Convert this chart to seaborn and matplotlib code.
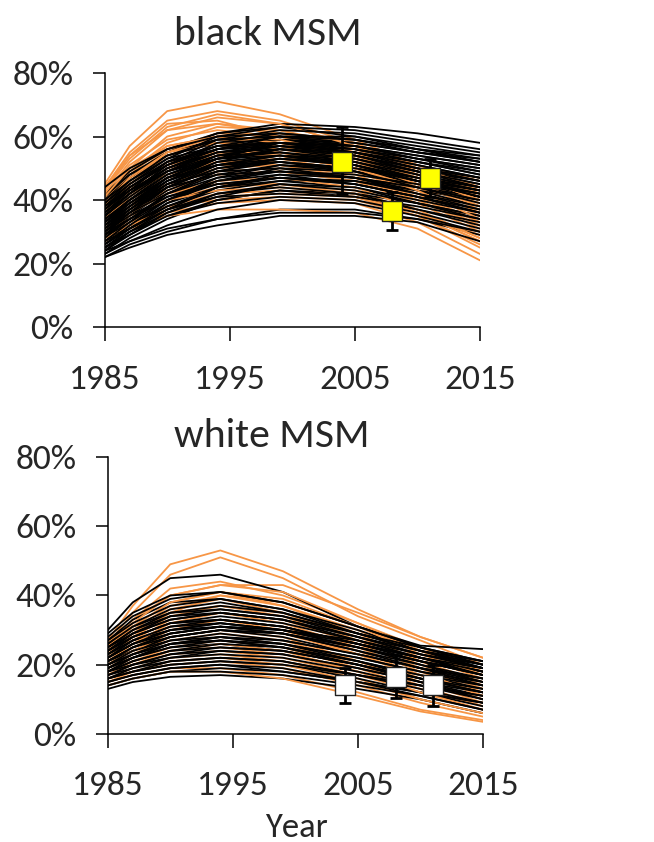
import numpy as np
import pandas as pd
import matplotlib
matplotlib.use("Agg")
import matplotlib.pyplot as plt
from matplotlib.ticker import FuncFormatter
import seaborn as sns

# Years at which each model trajectory is recorded
years = [1985, 1987, 1990, 1994, 1999, 2005, 2010, 2015]

# black MSM, model runs (percent)
black_msm_black = [
    [40, 47, 55, 61, 64, 63, 61, 58],
    [38, 45, 53, 60, 63, 62, 59, 56],
    [36, 43, 52, 59, 62, 61, 58, 55],
    [42, 49, 56, 61, 63, 60, 56, 52],
    [35, 42, 51, 58, 61, 59, 55, 52],
    [39, 46, 54, 59, 60, 57, 53, 49],
    [33, 40, 49, 56, 59, 57, 53, 50],
    [37, 44, 52, 57, 58, 55, 51, 47],
    [31, 38, 47, 54, 57, 55, 51, 47],
    [34, 41, 49, 55, 57, 54, 49, 45],
    [29, 36, 45, 52, 56, 54, 50, 46],
    [36, 42, 49, 54, 55, 52, 47, 43],
    [28, 35, 44, 51, 54, 52, 47, 43],
    [32, 38, 46, 52, 54, 51, 46, 42],
    [27, 33, 42, 49, 53, 51, 46, 41],
    [30, 36, 44, 50, 52, 49, 44, 40],
    [26, 32, 40, 47, 51, 49, 44, 40],
    [33, 38, 45, 49, 50, 47, 42, 38],
    [25, 31, 39, 46, 49, 47, 43, 38],
    [29, 34, 41, 46, 48, 45, 41, 37],
    [24, 30, 37, 44, 47, 45, 41, 36],
    [27, 32, 39, 44, 46, 44, 39, 35],
    [24, 29, 36, 42, 45, 43, 39, 34],
    [26, 31, 37, 42, 44, 42, 37, 33],
    [23, 28, 34, 40, 43, 41, 37, 32],
    [25, 29, 35, 39, 41, 40, 36, 31],
    [23, 27, 32, 37, 40, 39, 35, 30],
    [22, 26, 30, 34, 37, 37, 34, 29],
    [22, 25, 29, 32, 35, 35, 33, 27],
    [24, 27, 31, 34, 36, 36, 34, 30],
    [41, 48, 55, 59, 60, 58, 55, 53],
    [44, 50, 56, 60, 61, 59, 56, 54],
    [30, 37, 46, 53, 58, 57, 54, 51],
    [35, 40, 47, 51, 52, 50, 47, 44],
    [38, 44, 51, 56, 58, 56, 52, 48],
    [34, 40, 48, 53, 55, 53, 49, 45],
    [31, 37, 45, 51, 54, 53, 49, 46],
    [28, 34, 42, 48, 51, 50, 46, 42],
    [26, 31, 38, 44, 48, 47, 44, 39],
    [33, 39, 47, 53, 56, 54, 50, 47],
    [37, 43, 50, 55, 56, 53, 48, 44],
    [40, 46, 53, 57, 58, 55, 50, 46],
    [29, 35, 43, 49, 52, 50, 45, 41],
    [25, 30, 36, 41, 45, 44, 40, 36],
    [27, 31, 37, 41, 42, 41, 38, 34],
    [32, 37, 44, 48, 49, 47, 44, 41],
    [35, 41, 49, 55, 58, 57, 54, 51],
    [39, 45, 52, 56, 57, 54, 49, 44],
    [36, 42, 50, 56, 59, 58, 55, 52],
    [32, 39, 47, 53, 56, 55, 52, 49],
    [30, 36, 44, 50, 53, 52, 48, 44],
    [28, 33, 40, 46, 50, 49, 46, 43],
    [34, 39, 46, 51, 53, 51, 47, 43],
    [38, 43, 49, 53, 54, 51, 46, 41],
    [27, 32, 38, 43, 46, 46, 43, 40],
    [31, 36, 42, 47, 49, 48, 45, 42],
    [35, 42, 50, 56, 60, 60, 57, 54],
    [42, 48, 54, 58, 59, 56, 52, 48],
    [29, 34, 40, 45, 47, 46, 42, 37],
    [33, 40, 48, 54, 57, 56, 53, 50],
    [25, 30, 35, 40, 43, 42, 39, 35],
    [37, 44, 51, 57, 60, 59, 56, 53],
    [30, 35, 41, 45, 47, 45, 41, 36],
]
black_msm_orange = [
    [45, 57, 68, 71, 67, 59, 51, 44],
    [44, 55, 65, 68, 65, 58, 50, 43],
    [43, 53, 63, 67, 64, 57, 49, 42],
    [42, 52, 62, 66, 64, 57, 50, 44],
    [41, 50, 60, 64, 62, 56, 49, 42],
    [40, 49, 58, 63, 62, 57, 51, 46],
    [39, 47, 56, 61, 60, 55, 48, 41],
    [38, 46, 55, 60, 59, 54, 47, 40],
    [37, 45, 54, 59, 58, 53, 46, 38],
    [36, 43, 52, 57, 57, 52, 45, 37],
    [35, 42, 50, 55, 55, 51, 44, 36],
    [34, 41, 49, 54, 54, 50, 43, 34],
    [33, 40, 47, 52, 53, 49, 42, 33],
    [32, 38, 45, 50, 51, 48, 41, 32],
    [31, 37, 43, 48, 49, 46, 39, 30],
    [30, 36, 42, 46, 47, 44, 37, 28],
    [29, 34, 40, 44, 45, 43, 36, 27],
    [28, 33, 38, 42, 43, 41, 35, 25],
    [27, 32, 36, 39, 40, 39, 33, 23],
    [27, 31, 35, 37, 37, 36, 31, 21],
    [43, 54, 64, 65, 60, 54, 48, 43],
    [40, 48, 57, 60, 58, 54, 50, 47],
    [42, 51, 59, 62, 60, 55, 48, 41],
    [39, 47, 55, 58, 57, 52, 45, 38],
    [36, 44, 51, 55, 55, 51, 45, 39],
    [34, 40, 47, 51, 51, 47, 40, 31],
    [31, 36, 42, 45, 45, 42, 36, 29],
    [38, 45, 52, 55, 54, 50, 44, 39],
    [29, 33, 38, 40, 41, 40, 35, 26],
    [41, 49, 56, 58, 56, 52, 47, 43],
    [44, 54, 62, 64, 61, 55, 48, 42],
    [41, 50, 57, 60, 58, 53, 47, 40],
    [37, 44, 51, 55, 55, 51, 44, 36],
    [35, 42, 48, 52, 52, 49, 43, 35],
    [33, 39, 45, 49, 50, 47, 41, 33],
    [30, 35, 40, 43, 44, 42, 36, 27],
    [39, 47, 54, 58, 57, 53, 47, 41],
    [36, 43, 50, 54, 54, 50, 45, 40],
    [32, 38, 44, 48, 49, 46, 40, 32],
    [28, 32, 37, 41, 42, 41, 36, 28],
]

# white MSM, model runs (percent)
white_msm_black = [
    [30, 38, 45, 46, 41, 31, 25.5, 24.5],
    [28, 34, 39, 41, 38, 31, 25, 20],
    [27, 32, 37, 39, 36, 29, 24, 19],
    [26, 31, 35, 37, 35, 29, 24, 20],
    [25, 30, 34, 36, 34, 28, 23, 19],
    [24, 28, 32, 34, 32, 27, 22, 18],
    [23, 27, 31, 33, 31, 26, 22, 18],
    [22, 26, 30, 32, 30, 25, 21, 17],
    [21, 25, 29, 31, 29, 24, 20, 16],
    [21, 24, 28, 30, 28, 23, 19, 15],
    [20, 23, 27, 29, 27, 23, 19, 16],
    [19, 22, 26, 28, 26, 22, 18, 14],
    [19, 22, 25, 27, 25, 21, 17, 13],
    [18, 21, 24, 26, 25, 21, 17, 14],
    [18, 20, 23, 25, 24, 20, 16, 12],
    [17, 20, 22, 24, 23, 19, 15, 11],
    [17, 19, 22, 23, 22, 18, 14, 10],
    [16, 18, 21, 22, 21, 17, 13, 9],
    [16, 18, 20, 21, 20, 16, 12, 8],
    [15, 17, 19, 20, 19, 15, 11, 7],
    [14, 16, 18, 18, 17, 14, 11, 7],
    [13, 15, 16.5, 17, 16, 13, 10, 6],
    [25, 29, 33, 35, 33, 28, 24, 21],
    [22, 26, 29, 31, 30, 27, 23, 20],
    [20, 24, 28, 30, 29, 25, 21, 18],
    [24, 29, 34, 35, 33, 27, 22, 17],
    [29, 35, 40, 41, 38, 31, 25, 21],
    [27, 33, 38, 39, 36, 30, 24, 19],
    [23, 28, 32, 33, 31, 26, 21, 17],
    [21, 25, 28, 30, 29, 25, 21, 17],
    [19, 23, 26, 28, 27, 23, 19, 16],
    [18, 21, 24, 25, 24, 20, 16, 13],
    [16, 19, 21, 22, 21, 17, 14, 11],
    [15, 17, 19, 20, 18, 15, 12, 9],
    [22, 27, 31, 32, 30, 25, 20, 15],
    [20, 24, 27, 28, 26, 21, 16, 12],
    [24, 28, 32, 33, 31, 26, 22, 19],
    [26, 31, 36, 38, 35, 29, 24, 20],
    [24, 29, 33, 35, 33, 28, 23, 19],
    [23, 27, 30, 32, 30, 26, 22, 18],
    [21, 25, 29, 31, 30, 26, 22, 19],
    [20, 23, 26, 27, 26, 22, 18, 15],
    [19, 22, 25, 26, 24, 20, 16, 12],
    [17, 20, 23, 24, 23, 19, 15, 12],
    [16, 18, 20, 21, 20, 17, 14, 11],
    [14, 16, 18, 19, 18, 15, 12, 9],
    [22, 26, 30, 31, 29, 24, 19, 14],
    [25, 30, 35, 36, 34, 29, 25, 21],
    [18, 22, 26, 27, 25, 20, 15, 10],
]
white_msm_orange = [
    [27, 37, 49, 53, 47, 36, 28, 22],
    [26, 35, 46, 51, 45, 34, 27, 20],
    [25, 33, 42, 44, 40, 32, 25, 18],
    [25, 32, 40, 43, 41, 32, 24, 17],
    [24, 31, 38, 41, 37, 29, 21, 14],
    [23, 29, 36, 39, 35, 27, 20, 13],
    [22, 28, 34, 37, 34, 26, 19, 12],
    [21, 26, 32, 35, 32, 25, 18, 11],
    [20, 25, 30, 33, 30, 23, 16, 10],
    [19, 23, 28, 30, 28, 21, 15, 9],
    [18, 22, 26, 28, 26, 20, 14, 8],
    [17, 21, 24, 26, 24, 18, 12, 7],
    [16, 19, 22, 23, 21, 16, 10, 6],
    [15, 18, 20, 21, 19, 14, 9, 5],
    [15, 17, 19, 19, 17, 12, 7, 4],
    [14, 16, 18, 18, 16, 11, 6.5, 3.5],
    [26, 33, 40, 43, 43, 35, 28, 22],
    [24, 30, 37, 40, 38, 31, 24, 18],
    [22, 27, 33, 35, 33, 26, 19, 13],
    [20, 24, 29, 31, 29, 23, 17, 11],
    [18, 21, 25, 27, 25, 19, 13, 8],
    [17, 20, 23, 24, 22, 17, 12, 7],
    [23, 28, 35, 40, 37, 30, 22, 16],
    [25, 31, 38, 41, 39, 31, 23, 17],
    [21, 26, 31, 33, 31, 24, 17, 12],
    [19, 23, 27, 29, 27, 21, 15, 10],
    [17, 20, 24, 25, 23, 18, 13, 9],
    [16, 18, 21, 22, 20, 15, 10, 6],
    [23, 29, 35, 37, 35, 28, 21, 15],
]

# Survey estimates with error bars (percent)
obs_years = [2004, 2008, 2011]
black_obs = [52, 36.5, 47]
black_obs_lo = [42, 30.5, 41]
black_obs_hi = [63, 42.5, 53]
white_obs = [14, 16.5, 14]
white_obs_lo = [9, 10.3, 8.1]
white_obs_hi = [19, 22.7, 19.9]

ORANGE = "#F79646"
FONT = ["Carlito", "Lato", "DejaVu Sans"]

sns.set_theme(style="white")
plt.rcParams["font.family"] = FONT


def long_frame(curves, group):
    rows = []
    for i, vals in enumerate(curves):
        for y, v in zip(years, vals):
            rows.append({"year": y, "value": v / 100.0, "run": f"{group}{i}", "group": group})
    return pd.DataFrame(rows)


def draw_runs(ax, df, ids, color):
    sns.lineplot(data=df[df["run"].isin(ids)], x="year", y="value", units="run",
                 estimator=None, color=color, lw=1.3, ax=ax, legend=False)


def draw_panel(ax, orange_runs, black_runs, obs, lo, hi, face):
    df_o = long_frame(orange_runs, "orange")
    df_b = long_frame(black_runs, "black")
    o_ids = df_o["run"].unique()
    b_ids = df_b["run"].unique()
    # most orange runs sit underneath; a quarter are layered between black batches
    draw_runs(ax, df_o, [r for i, r in enumerate(o_ids) if i % 4 != 3], ORANGE)
    draw_runs(ax, df_b, b_ids[0::3], "black")
    draw_runs(ax, df_o, o_ids[3::4], ORANGE)
    draw_runs(ax, df_b, [r for i, r in enumerate(b_ids) if i % 3 != 0], "black")

    obs_v = np.array(obs) / 100.0
    err = [obs_v - np.array(lo) / 100.0, np.array(hi) / 100.0 - obs_v]
    ax.errorbar(obs_years, obs_v, yerr=err, fmt="none", ecolor="black",
                elinewidth=2.0, capsize=4, capthick=2.0, zorder=5)
    sns.scatterplot(x=obs_years, y=obs_v, marker="s", s=210, color=face,
                    edgecolor="#222222", linewidth=1.0, ax=ax, zorder=6, legend=False)

    ax.set_xlim(1985, 2015)
    ax.set_ylim(0, 0.8)
    ax.set_xticks([1985, 1995, 2005, 2015])
    ax.set_yticks([0, 0.2, 0.4, 0.6, 0.8])
    ax.yaxis.set_major_formatter(FuncFormatter(lambda v, p: f"{v * 100:.0f}%"))
    ax.set_xlabel("")
    ax.set_ylabel("")
    for s in ("top", "right"):
        ax.spines[s].set_visible(False)
    for s in ("left", "bottom"):
        ax.spines[s].set_color("black")
        ax.spines[s].set_linewidth(1.1)
    ax.tick_params(axis="x", direction="out", length=10, width=1.1, color="black",
                   labelsize=25.5, pad=17, bottom=True)
    ax.tick_params(axis="y", direction="out", length=8.5, width=1.1, color="black",
                   labelsize=25.5, pad=14, left=True)
    ax.set_facecolor("white")


fig = plt.figure(figsize=(6.54, 8.42), dpi=100)
ax1 = fig.add_axes([0.160, 0.6116, 0.574, 0.3017])
ax2 = fig.add_axes([0.1647, 0.1283, 0.574, 0.3290])

draw_panel(ax1, black_msm_orange, black_msm_black, black_obs, black_obs_lo, black_obs_hi, "#FFFF00")
draw_panel(ax2, white_msm_orange, white_msm_black, white_obs, white_obs_lo, white_obs_hi, "white")

fig.text(0.41, 0.9466, "black MSM", ha="center", va="baseline", fontsize=30)
fig.text(0.415, 0.469, "white MSM", ha="center", va="baseline", fontsize=30)
fig.text(0.4526, 0.006, "Year", ha="center", va="baseline", fontsize=25)

fig.savefig("out.png", dpi=100, facecolor="white")
